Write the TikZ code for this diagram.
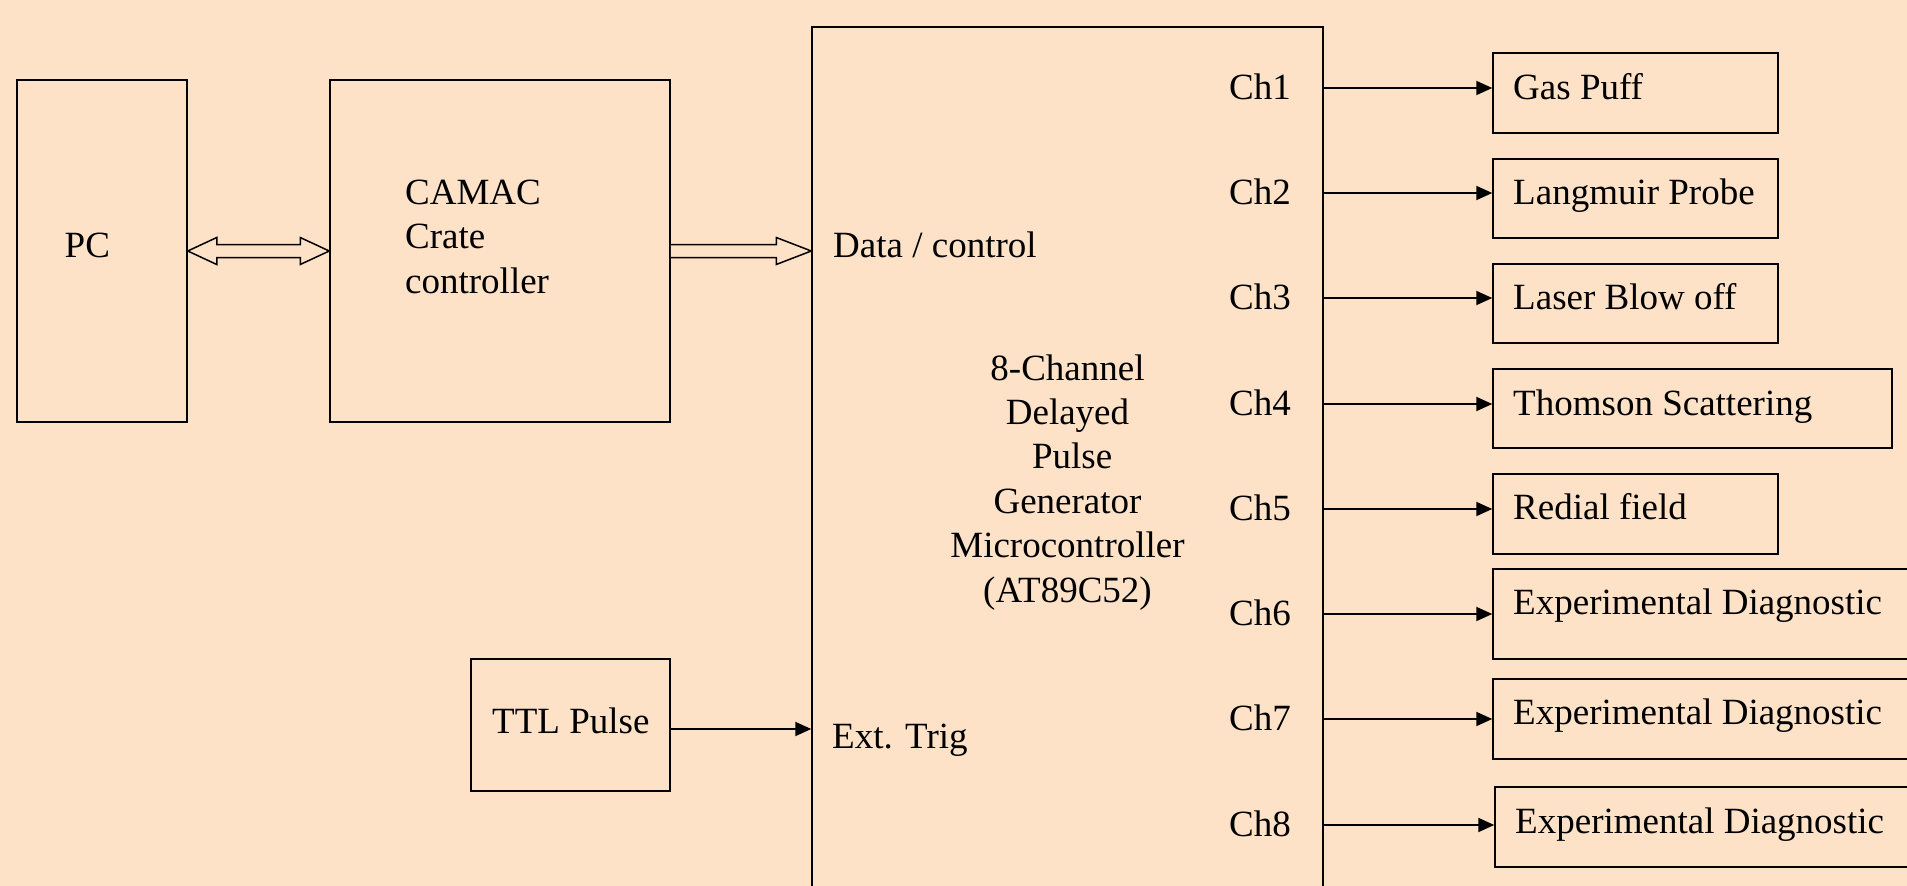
\documentclass[tikz,border=0pt]{standalone}
\usepackage{fontspec}
\setmainfont{Liberation Serif}
\usetikzlibrary{calc,arrows.meta}
\definecolor{bg}{RGB}{253,226,200}
\tikzset{
  box/.style={draw, line width=1.5pt, inner sep=0pt},
  txt/.style={inner sep=0pt, anchor=base west},
  arr/.style={line width=2pt, -{Triangle[length=16pt,width=14pt]}},
  hollow/.style={draw, fill=bg, line width=1.5pt, line join=miter},
}
\begin{document}
\begin{tikzpicture}[x=1pt,y=-1pt,font=\fontsize{37}{44.4}\selectfont]
\useasboundingbox (0,0) rectangle (1907,886);
\clip (0,0) rectangle (1907,886);
\fill[bg] (0,0) rectangle (1907,886);

% main boxes
\node[box, minimum width=170pt, minimum height=342pt] (pc) at (102,251) {};
\node[box, minimum width=340pt, minimum height=342pt] (camac) at (500,251) {};
\node[box, minimum width=511pt, minimum height=893pt] (big) at (1067.5,473.5) {};
\node[box, minimum width=199pt, minimum height=132pt] (ttl) at (570.5,725) {};

% texts in main boxes
\node[txt] (pct) at (64.5,257) {PC};
\node[txt, align=left] (camact) at (405,293) {CAMAC\\Crate\\controller};
\node[txt] (ttlt) at (492,733) {TTL Pulse};
\node[txt] (datat) at (833,257) {Data / control};
\node[txt] (extt) at (832,748) {Ext. Trig};
\node[inner sep=0pt, anchor=base, align=center] (gent) at (1067.5,602)
  {8-Channel\\Delayed\\\hspace*{0.25em}Pulse\\Generator\\Microcontroller\\(AT89C52)};

% output boxes
\node[box, minimum width=285pt, minimum height=80pt] (o1) at (1635.5,93) {};
\node[box, minimum width=285pt, minimum height=79pt] (o2) at (1635.5,198.5) {};
\node[box, minimum width=285pt, minimum height=79pt] (o3) at (1635.5,303.5) {};
\node[box, minimum width=399pt, minimum height=79pt] (o4) at (1692.5,408.5) {};
\node[box, minimum width=285pt, minimum height=80pt] (o5) at (1635.5,514) {};
\node[box, minimum width=437pt, minimum height=90pt] (o6) at (1711.5,614) {};
\node[box, minimum width=437pt, minimum height=80pt] (o7) at (1711.5,719) {};
\node[box, minimum width=435pt, minimum height=80pt] (o8) at (1712.5,827) {};

\node[txt] (t1) at (1513,99) {Gas Puff};
\node[txt] (t2) at (1513,204) {Langmuir Probe};
\node[txt] (t3) at (1513,309) {Laser Blow off};
\node[txt] (t4) at (1513,415) {Thomson Scattering};
\node[txt] (t5) at (1513,519) {Redial field};
\node[txt] (t6) at (1513,614) {Experimental Diagnostic};
\node[txt] (t7) at (1513,724) {Experimental Diagnostic};
\node[txt] (t8) at (1515,833) {Experimental Diagnostic};

% channel labels and arrows
\foreach \i/\y in {1/88,2/193,3/298,4/404,5/509,6/614,7/719,8/825}{
  \node[txt] (ch\i) at (1229,\y+11.5) {Ch\i};
  \coordinate (k\i) at (1323,\y);
  \draw[arr] (k\i) -- (k\i -| o\i.west);
}

% TTL arrow
\coordinate (tt) at ($(ttl.east)+(0,4)$);
\draw[arr] (tt) -- (tt -| big.west);

% hollow double arrow PC <-> CAMAC
\draw[hollow] (pc.east) -- ++(29,-13.5) -- ++(0,7)
  -- ($(camac.west)+(-29,-6.5)$) -- ++(0,-7) -- (camac.west)
  -- ++(-29,13.5) -- ++(0,-7) -- ($(pc.east)+(29,6.5)$) -- ++(0,7) -- cycle;

% hollow arrow CAMAC -> big box
\coordinate (bt) at (camac.east -| big.west);
\draw[hollow] ($(camac.east)+(0,-6.5)$) -- ($(bt)+(-35,-6.5)$) -- ++(0,-7)
  -- (bt) -- ++(-35,13.5) -- ++(0,-7) -- ($(camac.east)+(0,6.5)$);
\end{tikzpicture}
\end{document}
